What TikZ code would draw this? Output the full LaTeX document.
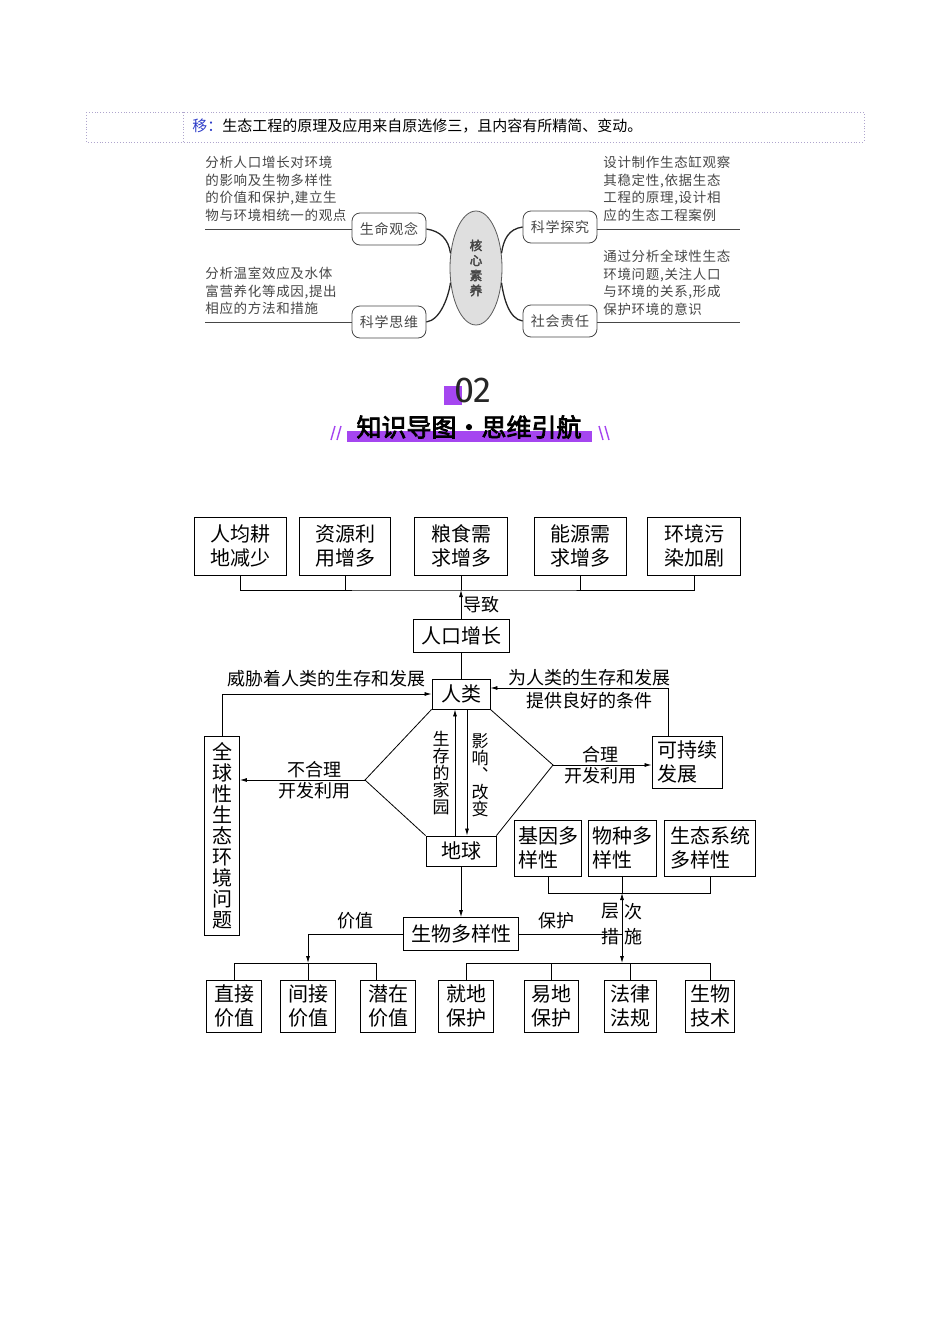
\documentclass[tikz,border=0pt]{standalone}
\usepackage{fontspec}
\usepackage{xcolor}
\usepackage{tikz}
\usetikzlibrary{positioning, arrows.meta, shapes.geometric}
\setmainfont{Noto Sans CJK SC}
\newfontfamily\notefont[LetterSpace=5]{Noto Sans CJK SC}
\newfontfamily\titlefont[FakeBold=3]{Noto Sans CJK SC}
\newfontfamily\numfont{Fira Sans}
\definecolor{titlepurple}{RGB}{165,70,240}
\definecolor{notegray}{RGB}{70,70,70}
\definecolor{noteblue}{RGB}{45,60,200}
\definecolor{dotgray}{RGB}{175,165,205}

\begin{document}
\begin{tikzpicture}[x=1pt, y=-1pt, line width=0.8pt,
    box/.style={draw, line width=0.9pt, inner sep=2pt, align=center,
        font=\fontsize{20}{24}\selectfont},
    topbox/.style={box, minimum width=92pt, minimum height=58pt},
    lowbox/.style={box, minimum width=55pt, minimum height=52pt},
    lbl/.style={font=\fontsize{18}{20}\selectfont, inner sep=2pt},
    vlbl/.style={font=\fontsize{17}{17}\selectfont, align=center, inner sep=0pt},
    arr/.style={-{Latex[length=7pt,width=4pt]}},
    core/.style={draw=notegray, rounded corners=8pt, minimum width=74pt,
        minimum height=32pt, text=notegray, font=\notefont\fontsize{14}{16}\selectfont},
    desc/.style={text=notegray, align=left, inner sep=0pt,
        font=\notefont\fontsize{13.5}{17.5}\selectfont},
    twig/.style={draw=black!85, line width=1.3pt}]
\useasboundingbox (0,0) rectangle (950,1344);

% note line at the top
\draw[dotgray, dotted, line width=0.9pt] (86,112) rectangle (864,142);
\draw[dotgray, dotted, line width=0.9pt] (183,112) -- (183,142);
\node[anchor=west, inner sep=0pt, font=\fontsize{15}{18}\selectfont] (note) at (192,126)
    {\textcolor{noteblue}{移：}生态工程的原理及应用来自原选修三，且内容有所精简、变动。};

% core literacy
\node[ellipse, draw=gray!70!black, fill=gray!25, minimum width=52pt, minimum height=114pt,
    align=center, text=notegray, font=\titlefont\fontsize{12.5}{15}\selectfont] (hxsy) at (476,268)
    {核\\心\\素\\养};
\node[core] (smgn) at (389,229) {生命观念};
\node[core] (kxsw) at (389,322) {科学思维};
\node[core] (kxtj) at (560,227) {科学探究};
\node[core] (shzr) at (560,321) {社会责任};

\draw[twig] (smgn.east) .. controls +(14,2) and +(-2,-14) .. (hxsy.150);
\draw[twig] (kxsw.east) .. controls +(14,-2) and +(-2,14) .. (hxsy.210);
\draw[twig] (hxsy.30) .. controls +(2,-14) and +(-14,2) .. (kxtj.west);
\draw[twig] (hxsy.-30) .. controls +(2,14) and +(-14,-2) .. (shzr.west);

\coordinate (l1) at (205,229);
\coordinate (l2) at (205,322);
\coordinate (r1) at (740,229);
\coordinate (r2) at (740,322);
\draw[notegray] (l1) -- (smgn.west);
\draw[notegray] (l2) -- (kxsw.west);
\draw[notegray] (kxtj.east |- r1) -- (r1);
\draw[notegray] (shzr.east |- r2) -- (r2);

\node[desc, anchor=north west] (d1) at (205,156)
    {分析人口增长对环境\\的影响及生物多样性\\的价值和保护,建立生\\物与环境相统一的观点};
\node[desc, anchor=north west] (d2) at (205,267)
    {分析温室效应及水体\\富营养化等成因,提出\\相应的方法和措施};
\node[desc, anchor=north west] (d3) at (603,156)
    {设计制作生态缸观察\\其稳定性,依据生态\\工程的原理,设计相\\应的生态工程案例};
\node[desc, anchor=north west] (d4) at (603,250)
    {通过分析全球性生态\\环境问题,关注人口\\与环境的关系,形成\\保护环境的意识};

% section title
\fill[titlepurple] (444,386) rectangle (462,405);
\node[font=\numfont\fontsize{36}{36}\selectfont, text=black!85] (num) at (473,390) {02};
\fill[titlepurple] (347,431) rectangle (592,442);
\node[font=\titlefont\fontsize{25}{25}\selectfont] (ttl) at (469,427) {知识导图·思维引航};
\draw[titlepurple, line width=1.4pt] (331,440) -- (335,426) (337,440) -- (341,426);
\draw[titlepurple, line width=1.4pt] (599,426) -- (603,440) (605,426) -- (609,440);

% mind map
\node[topbox] (rjgd) at (240,546) {人均耕\\地减少};
\node[topbox, minimum width=91pt] (zyly) at (345,546) {资源利\\用增多};
\node[topbox, minimum width=93pt] (lsxq) at (461,546) {粮食需\\求增多};
\node[topbox] (nyxq) at (580,546) {能源需\\求增多};
\node[topbox, minimum width=93pt] (hjwr) at (694,546) {环境污\\染加剧};
\coordinate (bus1) at (461,590);
\draw (rjgd.south) |- (bus1) -| (hjwr.south);
\draw (zyly.south) -- (zyly.south |- bus1);
\draw (lsxq.south) -- (bus1);
\draw (nyxq.south) -- (nyxq.south |- bus1);

\node[box, minimum width=96pt, minimum height=33pt] (rkzz) at (461,636) {人口增长};
\draw[arr] (rkzz.north) -- (bus1) node[midway, right, lbl] {导致};

\node[box, minimum width=58pt, minimum height=30pt] (renlei) at (461,694) {人类};
\draw (rkzz.south) -- (renlei.north);
\node[box, minimum width=70pt, minimum height=30pt] (diqiu) at (461,851) {地球};

\draw[arr] ([xshift=-6pt]diqiu.north) -- ([xshift=-6pt]renlei.south);
\draw[arr] ([xshift=6pt]renlei.south) -- ([xshift=6pt]diqiu.north);
\node[vlbl] (jiayuan) at (441,773) {生\\存\\的\\家\\园};
\node[vlbl] (gaibian) at (480,775) {影\\响\\︑\\改\\变};

\coordinate (dl) at (365,780);
\coordinate (dr) at (553,765);
\draw (renlei.south west) -- (dl) -- (diqiu.north west);
\draw (renlei.south east) -- (dr) -- (diqiu.north east);

\node[box, minimum width=35pt, minimum height=199pt, inner sep=1pt,
    font=\fontsize{20}{21}\selectfont] (qqx) at (222,836)
    {全\\球\\性\\生\\态\\环\\境\\问\\题};
\node[box, minimum width=70pt, minimum height=52pt, align=left] (kcx) at (687,762) {可持续\\发展};

\draw[arr] (dl) -- (dl -| qqx.east)
    node[pos=0.4, above, lbl] {不合理} node[pos=0.4, below, lbl] {开发利用};
\draw[arr] (dr) -- (dr -| kcx.west)
    node[pos=0.48, above, lbl] {合理} node[pos=0.48, below, lbl] {开发利用};
\draw[arr] (qqx.north) |- (renlei.west)
    node[pos=0.75, above, lbl, yshift=5pt] {威胁着人类的生存和发展};
\draw[arr] ([xshift=-19pt]kcx.north) |- ([yshift=6pt]renlei.east)
    node[pos=0.72, above, lbl] {为人类的生存和发展}
    node[pos=0.72, below, lbl, yshift=-2pt] {提供良好的条件};

\node[box, minimum width=67pt, minimum height=56pt, align=left] (jydy) at (548,848) {基因多\\样性};
\node[box, minimum width=68pt, minimum height=56pt, align=left] (wzdy) at (622,848) {物种多\\样性};
\node[box, minimum width=91pt, minimum height=56pt, align=left] (stdy) at (710,848) {生态系统\\多样性};
\coordinate (bus2) at (622,893);
\coordinate (bus3) at (622,963);
\draw (jydy.south) |- (bus2) -| (stdy.south);
\draw (wzdy.south) -- (bus2);

\node[box, minimum width=115pt, minimum height=33pt] (swdy) at (461,934) {生物多样性};
\draw[arr] (diqiu.south) -- (swdy.north);
\draw (swdy.east) -- (swdy.east -| bus2) node[pos=0.36, above, lbl, yshift=3pt] {保护};
\draw[{Latex[length=7pt,width=4pt]}-{Latex[length=7pt,width=4pt]}] (bus2) -- (bus3)
    node[pos=0.26, left, lbl] {层} node[pos=0.26, right, lbl] {次}
    node[pos=0.62, left, lbl] {措} node[pos=0.62, right, lbl] {施};

\node[lowbox] (zjjz) at (234,1006) {直接\\价值};
\node[lowbox] (jjjz) at (308,1006) {间接\\价值};
\node[lowbox] (qzjz) at (388,1006) {潜在\\价值};
\coordinate (vbus) at (308,963);
\draw[arr] (swdy.west) -| (vbus) node[pos=0.25, above, lbl, yshift=3pt] {价值};
\draw (zjjz.north) |- (vbus) -| ([xshift=-12pt]qzjz.north);
\draw (jjjz.north) -- (vbus);

\node[lowbox] (jdbh) at (466,1006) {就地\\保护};
\node[lowbox, minimum width=54pt] (ydbh) at (551,1006) {易地\\保护};
\node[lowbox, minimum width=52pt] (flfg) at (630,1006) {法律\\法规};
\node[lowbox, minimum width=49pt] (swjs) at (710,1006) {生物\\技术};
\draw (jdbh.north) |- (bus3) -| (swjs.north);
\draw (ydbh.north) -- (ydbh.north |- bus3);
\draw (flfg.north) -- (flfg.north |- bus3);
\end{tikzpicture}
\end{document}
